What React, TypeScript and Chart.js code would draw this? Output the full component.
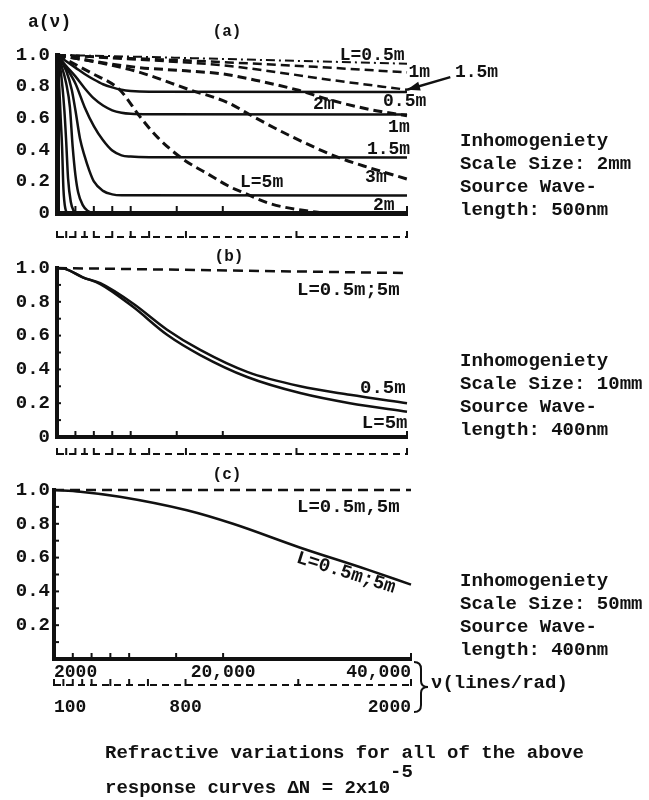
import React, { useEffect, useRef } from 'react';
import { Chart, registerables } from 'chart.js';

Chart.register(...registerables);

const INK = '#111111';
const MONO = "'Liberation Mono', 'DejaVu Sans Mono', monospace";

type Pt = [number, number];

// ---------- shared axes ----------
const NU_MIN = 2000;
const NU_MAX = 40000;
const NU_TICKS = [2000, 4000, 6000, 8000, 10000, 15000, 20000, 40000];
const NU_TICK_LABELS = ['2000', '', '', '', '', '', '20,000', '40,000'];
const NU2_MIN = 100;
const NU2_MAX = 2000;
const NU2_TICKS = [100, 150, 200, 250, 300, 400, 500, 600, 800, 1400, 2000];
const NU2_TICK_LABELS = ['100', '', '', '', '', '', '', '', '800', '', '2000'];
const A_TICKS = [0, 0.1, 0.2, 0.3, 0.4, 0.5, 0.6, 0.7, 0.8, 0.9, 1.0];
const A_TICK_LABELS = ['0', '', '0.2', '', '0.4', '', '0.6', '', '0.8', '', '1.0'];
const A_TICK_LABELS_C = ['', '', '0.2', '', '0.4', '', '0.6', '', '0.8', '', '1.0'];
const BLANK = ['', '', '', '', '', '', '', '', '', '', '', ''];

// ---------- panel (a): scale size 2mm, 500nm ----------
const A_SOLID_05: Pt[] = [[2000, 1.0], [3000, 0.96], [4000, 0.92], [5000, 0.88], [6000, 0.845], [7000, 0.815], [8000, 0.795], [9000, 0.78], [10000, 0.772], [12000, 0.767], [40000, 0.766]];
const A_SOLID_1: Pt[] = [[2000, 1.0], [3000, 0.93], [4000, 0.865], [5000, 0.79], [6000, 0.725], [7000, 0.68], [8000, 0.65], [9000, 0.635], [10000, 0.628], [12000, 0.625], [40000, 0.624]];
const A_SOLID_15: Pt[] = [[2000, 1.0], [3000, 0.92], [4000, 0.82], [5000, 0.67], [6000, 0.55], [7000, 0.46], [8000, 0.395], [9000, 0.365], [10000, 0.357], [12000, 0.353], [40000, 0.352]];
const A_SOLID_2: Pt[] = [[2000, 1.0], [3000, 0.9], [3600, 0.78], [4000, 0.65], [4500, 0.47], [5000, 0.36], [5500, 0.27], [6000, 0.2], [7000, 0.14], [8000, 0.118], [9000, 0.112], [40000, 0.11]];
const A_SOLID_3: Pt[] = [[2000, 1.0], [2500, 0.93], [3000, 0.82], [3400, 0.67], [3700, 0.42], [4000, 0.24], [4300, 0.13], [4800, 0.05], [5300, 0.015], [6000, 0], [40000, 0]];
const A_SOLID_4: Pt[] = [[2000, 1.0], [2400, 0.9], [2800, 0.65], [3000, 0.45], [3200, 0.22], [3500, 0.07], [3800, 0.015], [4200, 0], [40000, 0]];
const A_SOLID_5: Pt[] = [[2000, 1.0], [2200, 0.85], [2400, 0.6], [2550, 0.42], [2700, 0.15], [2900, 0.03], [3200, 0], [40000, 0]];
const A_DASH_05: Pt[] = [[2000, 1.0], [10000, 0.99], [20000, 0.975], [30000, 0.96], [40000, 0.945]];
const A_DASH_1: Pt[] = [[2000, 1.0], [10000, 0.98], [20000, 0.955], [30000, 0.925], [40000, 0.89]];
const A_DASH_15: Pt[] = [[2000, 1.0], [8000, 0.98], [14000, 0.96], [20000, 0.935], [26000, 0.89], [32000, 0.84], [40000, 0.78]];
const A_DASH_2: Pt[] = [[2000, 1.0], [6000, 0.96], [11000, 0.92], [16000, 0.9], [20000, 0.88], [24000, 0.835], [28000, 0.78], [32000, 0.71], [36000, 0.655], [40000, 0.615]];
const A_DASH_3: Pt[] = [[2000, 1.0], [6700, 0.95], [11000, 0.89], [16400, 0.78], [20500, 0.7], [23300, 0.61], [27600, 0.48], [32400, 0.355], [36000, 0.285], [40000, 0.215]];
const A_DASH_5: Pt[] = [[2000, 1.0], [5600, 0.89], [8800, 0.78], [11000, 0.61], [12900, 0.48], [15700, 0.34], [18300, 0.25], [20800, 0.165], [22200, 0.13], [25100, 0.06], [29500, 0.01], [31000, 0]];

// ---------- panel (b): scale size 10mm, 400nm ----------
const B_DASH: Pt[] = [[2000, 1.0], [40000, 0.97]];
const B_SOLID_05: Pt[] = [[2000, 1.0], [2900, 0.995], [4800, 0.945], [6700, 0.91], [10250, 0.79], [13950, 0.635], [17550, 0.515], [22650, 0.385], [28400, 0.3], [33800, 0.25], [40000, 0.2]];
const B_SOLID_5: Pt[] = [[2000, 1.0], [2900, 0.995], [4800, 0.945], [6700, 0.905], [10250, 0.77], [13950, 0.605], [17550, 0.485], [22650, 0.355], [28400, 0.26], [33800, 0.2], [40000, 0.15]];

// ---------- panel (c): scale size 50mm, 400nm ----------
const C_DASH: Pt[] = [[2000, 1.0], [40000, 1.0]];
const C_SOLID: Pt[] = [[2000, 1.0], [4800, 0.99], [9000, 0.96], [16150, 0.88], [21050, 0.8], [28150, 0.66], [35300, 0.53], [40000, 0.44]];

// ---------- side texts ----------
const TEXT_A = ['Inhomogeniety', 'Scale Size: 2mm', 'Source Wave-', 'length: 500nm'];
const TEXT_B = ['Inhomogeniety', 'Scale Size: 10mm', 'Source Wave-', 'length: 400nm'];
const TEXT_C = ['Inhomogeniety', 'Scale Size: 50mm', 'Source Wave-', 'length: 400nm'];

const DASH = [9, 5];
const DASH_DOT = [9, 4, 2, 4];

type Curve = { pts: Pt[]; dash?: number[]; width?: number };
type Note = { text: string; x: number; y: number; size: number; rotate?: number };
type Arrow = { from: Pt; to: Pt };

interface PanelSpec {
  curves: Curve[];
  notes: Note[];
  arrows?: Arrow[];
  padTop: number;
  padBottom: number;
  padRight: number;
  yWidth: number;
  yPad: number;
  yLabels: string[];
  axisWidth: number;
  xHeight: number;
  x2Height: number;
  xLabels: string[];
  x2Labels: string[];
  xPad: number;
  x2Pad: number;
  tickLen: number;
  yTickLen: number;
}

function ticksPlugin(p: PanelSpec) {
  return {
    id: 'inwardTicks',
    afterDraw(chart: any) {
      const ctx = chart.ctx as CanvasRenderingContext2D;
      const x = chart.scales.x;
      const x2 = chart.scales.x2;
      const y = chart.scales.y;
      const line = (a: number, b: number, c: number, d: number) => {
        ctx.beginPath();
        ctx.moveTo(a, b);
        ctx.lineTo(c, d);
        ctx.stroke();
      };
      ctx.save();
      ctx.strokeStyle = INK;
      ctx.lineWidth = 2;
      for (const t of x.ticks) {
        const px = x.getPixelForValue(t.value);
        line(px, x.top, px, x.top - p.tickLen);
      }
      for (const t of y.ticks) {
        const py = y.getPixelForValue(t.value);
        line(y.right, py, y.right + p.yTickLen, py);
      }
      ctx.setLineDash([7, 5]);
      line(x2.left, x2.top, x2.right, x2.top);
      ctx.setLineDash([]);
      for (const t of x2.ticks) {
        const px = x2.getPixelForValue(t.value);
        line(px, x2.top + 1, px, x2.top - 6);
      }
      ctx.restore();
    },
  };
}

function notesPlugin(p: PanelSpec) {
  return {
    id: 'notes',
    afterDatasetsDraw(chart: any) {
      const ctx = chart.ctx as CanvasRenderingContext2D;
      const xs = chart.scales.x;
      const ys = chart.scales.y;
      ctx.save();
      ctx.fillStyle = INK;
      ctx.strokeStyle = INK;
      for (const a of p.arrows || []) {
        const x1 = xs.getPixelForValue(a.from[0]);
        const y1 = ys.getPixelForValue(a.from[1]);
        const x2 = xs.getPixelForValue(a.to[0]);
        const y2 = ys.getPixelForValue(a.to[1]);
        ctx.lineWidth = 2.5;
        ctx.beginPath();
        ctx.moveTo(x1, y1);
        ctx.lineTo(x2, y2);
        ctx.stroke();
        const ang = Math.atan2(y1 - y2, x1 - x2);
        const L = 13;
        const W = 4.5;
        ctx.beginPath();
        ctx.moveTo(x1, y1);
        ctx.lineTo(x1 - L * Math.cos(ang) + W * Math.sin(ang), y1 - L * Math.sin(ang) - W * Math.cos(ang));
        ctx.lineTo(x1 - L * Math.cos(ang) - W * Math.sin(ang), y1 - L * Math.sin(ang) + W * Math.cos(ang));
        ctx.closePath();
        ctx.fill();
      }
      for (const n of p.notes) {
        const px = xs.getPixelForValue(n.x);
        const py = ys.getPixelForValue(n.y);
        ctx.save();
        ctx.translate(px, py);
        if (n.rotate) ctx.rotate((n.rotate * Math.PI) / 180);
        ctx.font = `bold ${n.size}px ${MONO}`;
        ctx.textAlign = 'left';
        ctx.textBaseline = 'middle';
        ctx.fillText(n.text, 0, 0);
        ctx.restore();
      }
      ctx.restore();
    },
  };
}

function buildConfig(p: PanelSpec): any {
  const tickFont = { family: MONO, size: 18, weight: 'bold' as const };
  return {
    type: 'line',
    data: {
      datasets: p.curves.map((c) => ({
        data: c.pts.map(([x, y]) => ({ x, y })),
        borderColor: INK,
        borderWidth: c.width ?? 2.5,
        borderDash: c.dash ?? [],
        borderJoinStyle: 'round',
        pointRadius: 0,
        fill: false,
        cubicInterpolationMode: 'monotone',
        clip: 8,
      })),
    },
    options: {
      responsive: false,
      animation: false,
      devicePixelRatio: 1,
      events: [],
      layout: { padding: { top: p.padTop, bottom: p.padBottom, left: 0, right: p.padRight } },
      plugins: { legend: { display: false }, tooltip: { enabled: false }, title: { display: false } },
      scales: {
        x: {
          type: 'linear',
          position: 'bottom',
          weight: 0,
          min: NU_MIN,
          max: NU_MAX,
          afterBuildTicks: (s: any) => {
            s.ticks = NU_TICKS.map((v) => ({ value: v }));
          },
          afterFit: (s: any) => {
            s.height = p.xHeight;
          },
          grid: { display: false, drawTicks: false },
          border: { display: true, color: INK, width: p.axisWidth },
          ticks: {
            autoSkip: false,
            maxRotation: 0,
            align: 'inner',
            padding: p.xPad,
            color: INK,
            font: tickFont,
            callback: (_v: any, i: number) => p.xLabels[i] ?? '',
          },
        },
        x2: {
          type: 'linear',
          position: 'bottom',
          weight: 1,
          min: NU2_MIN,
          max: NU2_MAX,
          afterBuildTicks: (s: any) => {
            s.ticks = NU2_TICKS.map((v) => ({ value: v }));
          },
          afterFit: (s: any) => {
            s.height = p.x2Height;
          },
          grid: { display: false, drawTicks: false },
          border: { display: false },
          ticks: {
            autoSkip: false,
            maxRotation: 0,
            align: 'inner',
            padding: p.x2Pad,
            color: INK,
            font: tickFont,
            callback: (_v: any, i: number) => p.x2Labels[i] ?? '',
          },
        },
        y: {
          type: 'linear',
          position: 'left',
          min: 0,
          max: 1,
          afterBuildTicks: (s: any) => {
            s.ticks = A_TICKS.map((v) => ({ value: v }));
          },
          afterFit: (s: any) => {
            s.width = p.yWidth;
          },
          grid: { display: false, drawTicks: false },
          border: { display: true, color: INK, width: p.axisWidth },
          ticks: {
            autoSkip: false,
            padding: p.yPad,
            color: INK,
            font: { family: MONO, size: 19, weight: 'bold' },
            callback: (_v: any, i: number) => p.yLabels[i] ?? '',
          },
        },
      },
    },
    plugins: [ticksPlugin(p), notesPlugin(p)],
  };
}

const PANEL_A: PanelSpec = {
  curves: [
    { pts: A_SOLID_05 },
    { pts: A_SOLID_1 },
    { pts: A_SOLID_15 },
    { pts: A_SOLID_2 },
    { pts: A_SOLID_3 },
    { pts: A_SOLID_4 },
    { pts: A_SOLID_5 },
    { pts: A_DASH_05, dash: DASH_DOT, width: 2 },
    { pts: A_DASH_1, dash: DASH, width: 2.5 },
    { pts: A_DASH_15, dash: DASH, width: 2.5 },
    { pts: A_DASH_2, dash: DASH, width: 3 },
    { pts: A_DASH_3, dash: DASH, width: 3 },
    { pts: A_DASH_5, dash: DASH, width: 3 },
  ],
  notes: [
    { text: 'L=0.5m', x: 32700, y: 0.995, size: 18 },
    { text: '1m', x: 40150, y: 0.892, size: 18 },
    { text: '1.5m', x: 45200, y: 0.892, size: 18 },
    { text: '2m', x: 29800, y: 0.69, size: 18 },
    { text: '0.5m', x: 37400, y: 0.703, size: 18 },
    { text: '1m', x: 37950, y: 0.544, size: 18 },
    { text: '1.5m', x: 35650, y: 0.4, size: 18 },
    { text: '3m', x: 35450, y: 0.228, size: 18 },
    { text: 'L=5m', x: 21870, y: 0.196, size: 18 },
    { text: '2m', x: 36300, y: 0.05, size: 18 },
  ],
  arrows: [{ from: [40000, 0.78], to: [44700, 0.86] }],
  padTop: 55,
  padBottom: 5,
  padRight: 242,
  yWidth: 57,
  yPad: 7,
  yLabels: A_TICK_LABELS,
  axisWidth: 5,
  xHeight: 24,
  x2Height: 8,
  xLabels: BLANK,
  x2Labels: BLANK,
  xPad: 3,
  x2Pad: 3,
  tickLen: 7,
  yTickLen: 0,
};

const PANEL_B: PanelSpec = {
  curves: [
    { pts: B_DASH, dash: [10, 6], width: 2.5 },
    { pts: B_SOLID_05, width: 2.5 },
    { pts: B_SOLID_5, width: 2.5 },
  ],
  notes: [
    { text: 'L=0.5m;5m', x: 28060, y: 0.87, size: 19 },
    { text: '0.5m', x: 34900, y: 0.29, size: 19 },
    { text: 'L=5m', x: 35100, y: 0.083, size: 19 },
  ],
  padTop: 28,
  padBottom: 10,
  padRight: 242,
  yWidth: 57,
  yPad: 7,
  yLabels: A_TICK_LABELS,
  axisWidth: 4,
  xHeight: 17,
  x2Height: 8,
  xLabels: BLANK,
  x2Labels: BLANK,
  xPad: 3,
  x2Pad: 3,
  tickLen: 6,
  yTickLen: 4,
};

const PANEL_C: PanelSpec = {
  curves: [
    { pts: C_DASH, dash: [10, 6], width: 2.5 },
    { pts: C_SOLID, width: 2.5 },
  ],
  notes: [
    { text: 'L=0.5m,5m', x: 27870, y: 0.9, size: 19 },
    { text: 'L=0.5m;5m', x: 27870, y: 0.6, size: 19, rotate: 17.5 },
  ],
  padTop: 30,
  padBottom: 10,
  padRight: 238,
  yWidth: 54,
  yPad: 4,
  yLabels: A_TICK_LABELS_C,
  axisWidth: 4,
  xHeight: 26,
  x2Height: 35,
  xLabels: NU_TICK_LABELS,
  x2Labels: NU2_TICK_LABELS,
  xPad: 3,
  x2Pad: 12,
  tickLen: 6,
  yTickLen: 5,
};

const CANVASES = [
  { spec: PANEL_A, top: 0, height: 250 },
  { spec: PANEL_B, top: 240, height: 232 },
  { spec: PANEL_C, top: 460, height: 270 },
];

const textStyle = (size: number): React.CSSProperties => ({
  position: 'absolute',
  fontFamily: MONO,
  fontWeight: 'bold',
  fontSize: size,
  color: INK,
  whiteSpace: 'pre',
  lineHeight: '24px',
});

function SideText({ lines, top }: { lines: string[]; top: number }) {
  return (
    <div style={{ ...textStyle(19), left: 460, top, lineHeight: '23px' }}>
      {lines.map((l, i) => (
        <div key={i}>{l}</div>
      ))}
    </div>
  );
}

export default function App() {
  const refs = [useRef<HTMLCanvasElement>(null), useRef<HTMLCanvasElement>(null), useRef<HTMLCanvasElement>(null)];

  useEffect(() => {
    const charts = CANVASES.map((c, i) => new Chart(refs[i].current as HTMLCanvasElement, buildConfig(c.spec)));
    return () => charts.forEach((ch) => ch.destroy());
  }, []);

  return (
    <div style={{ position: 'absolute', left: 0, top: 0, width: 649, height: 800, background: '#fff', overflow: 'hidden' }}>
      {CANVASES.map((c, i) => (
        <canvas
          key={i}
          ref={refs[i]}
          width={649}
          height={c.height}
          style={{ position: 'absolute', left: 0, top: c.top, width: 649, height: c.height }}
        />
      ))}
      <div style={{ ...textStyle(18), left: 28, top: 10 }}>a(ν)</div>
      <div style={{ ...textStyle(16), left: 227, top: 20, transform: 'translateX(-50%)' }}>(a)</div>
      <div style={{ ...textStyle(16), left: 229, top: 245, transform: 'translateX(-50%)' }}>(b)</div>
      <div style={{ ...textStyle(16), left: 227, top: 463, transform: 'translateX(-50%)' }}>(c)</div>
      <SideText lines={TEXT_A} top={130} />
      <SideText lines={TEXT_B} top={350} />
      <SideText lines={TEXT_C} top={570} />
      <svg width={649} height={800} style={{ position: 'absolute', left: 0, top: 0, pointerEvents: 'none' }}>
        <path
          d="M414,662 Q421,662 421,669 L421,681 Q421,687 428,687 Q421,687 421,693 L421,705 Q421,712 414,712"
          fill="none"
          stroke={INK}
          strokeWidth={2}
        />
      </svg>
      <div style={{ ...textStyle(19), left: 431, top: 671 }}>ν(lines/rad)</div>
      <div style={{ ...textStyle(19), left: 105, top: 741 }}>Refractive variations for all of the above</div>
      <div style={{ ...textStyle(19), left: 105, top: 776 }}>
        response curves ΔN = 2x10
        <span style={{ position: 'relative', top: -16 }}>-5</span>
      </div>
    </div>
  );
}
